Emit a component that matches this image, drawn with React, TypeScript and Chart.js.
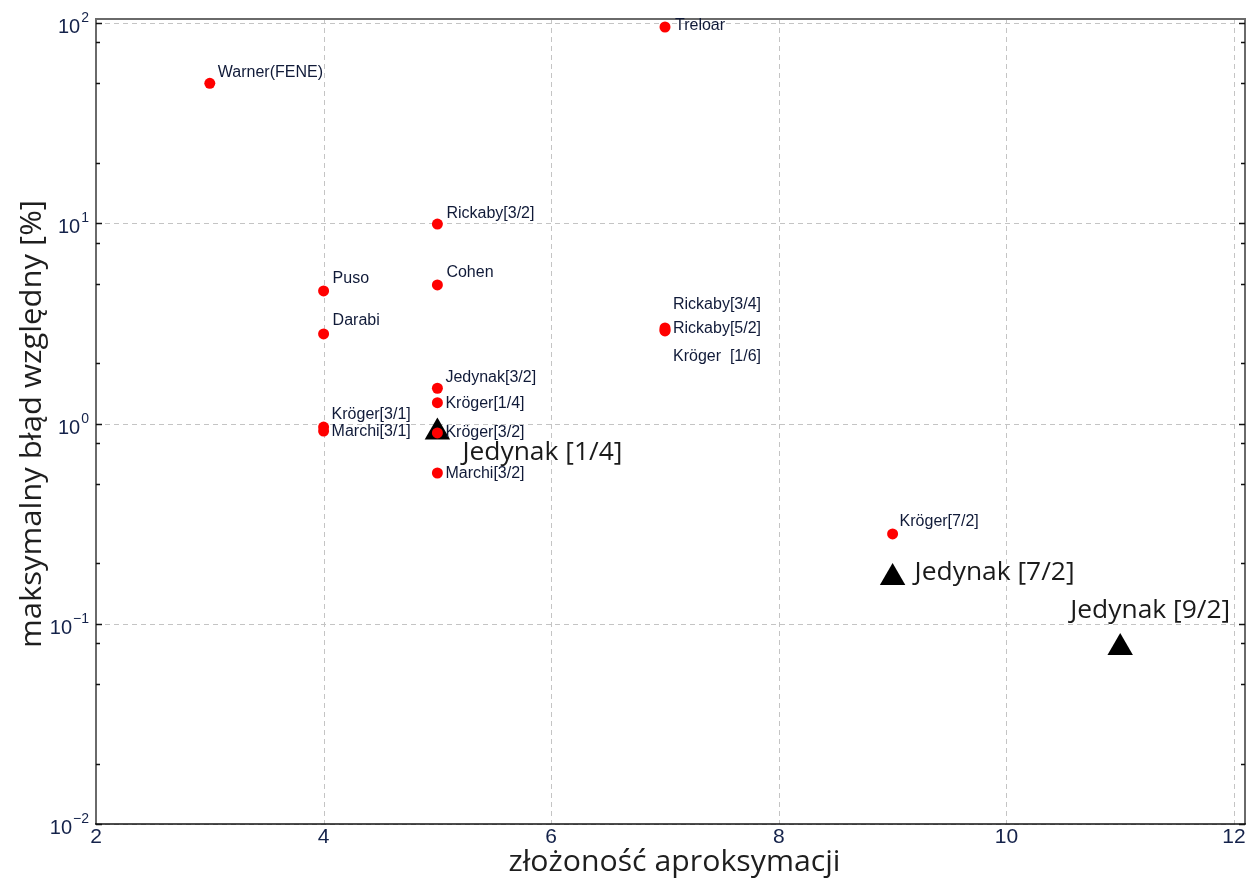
import React, { useEffect, useRef } from 'react';
import { Chart, registerables } from 'chart.js';

Chart.register(...registerables);

// ---- data ----
const modelNames = [
  'Warner(FENE)', 'Treloar', 'Rickaby[3/2]', 'Cohen', 'Puso', 'Darabi',
  'Rickaby[3/4]', 'Rickaby[5/2]', 'Kröger  [1/6]', 'Jedynak[3/2]', 'Kröger[1/4]',
  'Kröger[3/1]', 'Marchi[3/1]', 'Kröger[3/2]', 'Marchi[3/2]', 'Kröger[7/2]',
];
const modelComplexity = [3, 7, 5, 5, 4, 4, 7, 7, 7, 5, 5, 4, 4, 5, 5, 9];
const modelError = [50, 95.5, 9.9, 4.92, 4.59, 2.8, 3.0, 2.93, 2.9, 1.5, 1.27, 0.96, 0.917, 0.897, 0.566, 0.281];

const jedynakNames = ['Jedynak [1/4]', 'Jedynak [7/2]', 'Jedynak [9/2]'];
const jedynakComplexity = [5, 9, 11];
const jedynakError = [0.906, 0.17, 0.0759];

const xTickValues = [2, 4, 6, 8, 10, 12];
const yDecades = [0.01, 0.1, 1, 10, 100];
const yDecadeExponents = ['−2', '−1', '0', '1', '2'];
const yMinorMantissas = [2, 5, 8];

const xTitle = 'złożoność aproksymacji';
const yTitle = 'maksymalny błąd względny [%]';

// ---- label placement (pixel offsets from the marker) ----
const modelLabelOffsets: [number, number][] = [
  [8, -11], [10, -1], [9, -11], [9, -12], [9, -12], [9, -13],
  [8, -23], [8, -1], [8, 26], [8, -11], [8, 1],
  [8, -12], [8, 1], [8, 0], [8, 1], [7, -12],
];
const jedynakLabelOffsets: [number, number][] = [
  [25, 28], [22, 2], [-50, -30],
];

function drawFitted(ctx: CanvasRenderingContext2D, text: string, x: number, y: number, font: string, width: number) {
  ctx.save();
  ctx.font = font;
  const w = ctx.measureText(text).width;
  ctx.translate(x, y);
  ctx.scale(width / w, 1);
  ctx.textAlign = 'left';
  ctx.fillText(text, 0, 0);
  ctx.restore();
}

const decorPlugin = {
  id: 'decor',
  beforeDatasetsDraw(chart: any) {
    const { ctx, chartArea } = chart;
    const xs = chart.scales.x;
    const ys = chart.scales.y;
    const frameTop = chartArea.top - 4;
    const frameRight = chartArea.right + 11;
    ctx.save();
    ctx.strokeStyle = '#c4c4c4';
    ctx.lineWidth = 1;
    ctx.setLineDash([5, 4]);
    xs.ticks.forEach((t: any) => {
      const px = Math.round(xs.getPixelForValue(t.value)) + 0.5;
      ctx.beginPath();
      ctx.moveTo(px, frameTop);
      ctx.lineTo(px, chartArea.bottom);
      ctx.stroke();
    });
    yDecades.forEach((v) => {
      const py = Math.round(ys.getPixelForValue(v)) + 0.5;
      ctx.beginPath();
      ctx.moveTo(chartArea.left, py);
      ctx.lineTo(frameRight, py);
      ctx.stroke();
    });
    ctx.restore();
  },
  afterDatasetsDraw(chart: any) {
    const { ctx, chartArea } = chart;
    const ys = chart.scales.y;
    const left = chartArea.left;
    const bottom = chartArea.bottom;
    const frameTop = chartArea.top - 4;
    const frameRight = chartArea.right + 11;

    ctx.save();
    // frame
    ctx.setLineDash([]);
    ctx.strokeStyle = '#6a6a6a';
    ctx.lineWidth = 2;
    ctx.beginPath();
    ctx.moveTo(left, bottom);
    ctx.lineTo(left, frameTop);
    ctx.lineTo(frameRight, frameTop);
    ctx.lineTo(frameRight, bottom);
    ctx.stroke();
    ctx.strokeStyle = '#111';
    ctx.lineWidth = 1.5;
    ctx.beginPath();
    ctx.moveTo(left - 1, bottom);
    ctx.lineTo(frameRight + 1, bottom);
    ctx.stroke();

    // y ticks (major + minor)
    ctx.strokeStyle = '#111';
    ctx.lineWidth = 1.5;
    yDecades.forEach((d, i) => {
      const marks = [d];
      if (i < yDecades.length - 1) yMinorMantissas.forEach((m) => marks.push(d * m));
      marks.forEach((v) => {
        const py = Math.round(ys.getPixelForValue(v)) + 0.5;
        const len = v === d ? 6 : 4;
        ctx.beginPath();
        ctx.moveTo(left, py);
        ctx.lineTo(left + len, py);
        ctx.moveTo(frameRight, py);
        ctx.lineTo(frameRight - len, py);
        ctx.stroke();
      });
    });

    // y tick labels 10^n
    ctx.fillStyle = '#14224a';
    ctx.textBaseline = 'alphabetic';
    yDecades.forEach((v, i) => {
      const py = ys.getPixelForValue(v);
      ctx.font = '14px "Liberation Sans", Arial, sans-serif';
      ctx.textAlign = 'right';
      const supRight = left - 7;
      ctx.fillText(yDecadeExponents[i], supRight, py - 1);
      const supW = ctx.measureText(yDecadeExponents[i]).width;
      ctx.font = '20px "Liberation Sans", Arial, sans-serif';
      ctx.fillText('10', supRight - supW - 1, py + 10);
    });

    // model labels
    const meta0 = chart.getDatasetMeta(0);
    ctx.font = '16px "Liberation Sans", Arial, sans-serif';
    ctx.fillStyle = '#101a38';
    ctx.textAlign = 'left';
    ctx.textBaseline = 'middle';
    meta0.data.forEach((el: any, i: number) => {
      const [dx, dy] = modelLabelOffsets[i];
      ctx.fillText(modelNames[i], el.x + dx, el.y + dy);
    });

    // Jedynak labels
    const meta1 = chart.getDatasetMeta(1);
    ctx.fillStyle = '#1a1a1a';
    ctx.textBaseline = 'alphabetic';
    meta1.data.forEach((el: any, i: number) => {
      const [dx, dy] = jedynakLabelOffsets[i];
      drawFitted(ctx, jedynakNames[i], el.x + dx, el.y + dy, '26px "Open Sans", "Noto Sans", sans-serif', 160);
    });

    // axis titles
    ctx.fillStyle = '#1e1e1e';
    ctx.textBaseline = 'alphabetic';
    const xMid = (left + frameRight) / 2;
    const xTitleW = 332;
    drawFitted(ctx, xTitle, xMid - xTitleW / 2 + 4, bottom + 47, '30px "Open Sans", "Noto Sans", sans-serif', xTitleW);
    ctx.save();
    ctx.translate(41, 424);
    ctx.rotate(-Math.PI / 2);
    const yTitleW = 448;
    drawFitted(ctx, yTitle, -yTitleW / 2, 0, '30px "Open Sans", "Noto Sans", sans-serif', yTitleW);
    ctx.restore();

    ctx.restore();
  },
};

export default function App() {
  const canvasRef = useRef<HTMLCanvasElement | null>(null);

  useEffect(() => {
    const canvas = canvasRef.current;
    if (!canvas) return;
    const chart = new Chart(canvas, {
      type: 'scatter',
      data: {
        datasets: [
          {
            label: 'modele',
            data: modelComplexity.map((x, i) => ({ x, y: modelError[i] })),
            pointStyle: 'circle',
            pointRadius: 5.5,
            pointHoverRadius: 5.5,
            backgroundColor: '#ff0000',
            borderColor: '#ff0000',
            borderWidth: 0,
            clip: false,
          },
          {
            label: 'Jedynak',
            data: jedynakComplexity.map((x, i) => ({ x, y: jedynakError[i] })),
            pointStyle: 'triangle',
            pointRadius: 14.7,
            pointHoverRadius: 14.7,
            backgroundColor: '#000000',
            borderColor: '#000000',
            borderWidth: 0,
            clip: false,
          },
        ],
      },
      options: {
        animation: false,
        responsive: false,
        maintainAspectRatio: false,
        events: [],
        layout: { padding: { top: 23, right: 21, left: 0, bottom: 0 } },
        plugins: { legend: { display: false }, tooltip: { enabled: false } },
        scales: {
          x: {
            type: 'linear',
            min: 2,
            max: 12,
            afterBuildTicks: (s: any) => {
              s.ticks = xTickValues.map((v) => ({ value: v }));
            },
            afterFit: (s: any) => {
              s.height = 56;
            },
            grid: { display: false, drawTicks: false },
            border: { display: false },
            ticks: {
              autoSkip: false,
              maxRotation: 0,
              padding: 1,
              color: '#14224a',
              font: { family: '"Liberation Sans", Arial, sans-serif', size: 21 },
            },
          },
          y: {
            type: 'logarithmic',
            min: 0.01,
            max: 100,
            afterBuildTicks: (s: any) => {
              s.ticks = yDecades.map((v) => ({ value: v, major: true }));
            },
            afterFit: (s: any) => {
              s.width = 96;
            },
            grid: { display: false },
            border: { display: false },
            ticks: { display: false },
          },
        },
      },
      plugins: [decorPlugin],
    });
    return () => chart.destroy();
  }, []);

  return (
    <div style={{ position: 'absolute', left: 0, top: 0, width: 1255, height: 880, background: '#fff' }}>
      <canvas ref={canvasRef} width={1255} height={880} style={{ display: 'block', width: 1255, height: 880 }} />
    </div>
  );
}
